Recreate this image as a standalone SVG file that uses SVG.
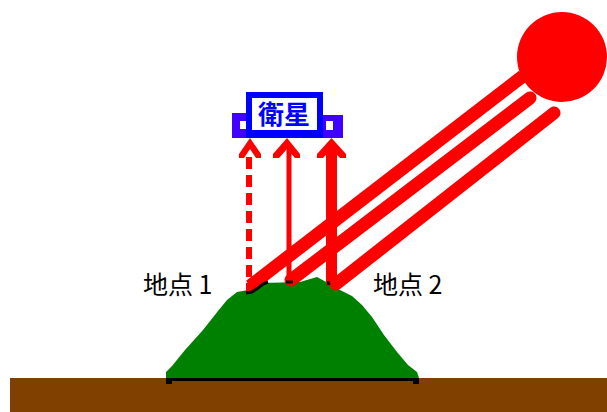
<svg xmlns="http://www.w3.org/2000/svg" width="607" height="412" viewBox="0 0 607 412">
  <style>
    .beam { fill: none; stroke: #ff0000; stroke-width: 13; }
    .shaft { fill: none; stroke: #ff0000; }
    .head { fill: #ff0000; }
    .label { font-family: "Noto Sans CJK JP", "Noto Sans", sans-serif; font-size: 25px; fill: #000; }
    .edge { fill: none; stroke: #000; stroke-width: 3; }
  </style>
  <rect width="607" height="412" fill="#ffffff"/>

  <!-- ground -->
  <g id="ground">
    <rect x="10" y="378" width="597" height="34" fill="#804000"/>
  </g>

  <!-- mountain -->
  <g id="mountain">
    <polygon fill="#008000" points="166,378 166,372 172,366 185,350 203,330 218,311 227,300 237,292 248,290 262,283 300,282 317,277 328,283 340,290 352,296 362,305 372,317 384,335 397,352 408,365 417,372 419,378"/>
    <rect x="166" y="378" width="253" height="3" fill="#000"/>
    <rect x="166" y="378" width="6" height="6" fill="#000"/>
    <rect x="413" y="378" width="6" height="6" fill="#000"/>
  </g>

  <!-- sun -->
  <g id="sun">
    <circle cx="562" cy="57" r="45" fill="#ff0000"/>
  </g>

  <!-- sunlight beams and reflected rays -->
  <g id="connectors">
    <line class="beam" x1="250" y1="286" x2="523" y2="76"/>
    <line class="beam" x1="291" y1="280" x2="530" y2="98" stroke-linecap="round"/>
    <line class="beam" x1="336" y1="284" x2="554" y2="113" stroke-linecap="round"/>

    <line class="shaft" x1="249" y1="157" x2="249" y2="293" stroke-width="6" stroke-dasharray="12 6"/>
    <polygon class="head" points="250,138 261,154 261,158 256,158 250,149 244,158 239,158 239,154"/>

    <line class="shaft" x1="289" y1="145" x2="289" y2="283" stroke-width="5"/>
    <polygon class="head" points="287,138 300,154 300,158 295,158 287,149 279,158 273,158 273,154"/>

    <line class="shaft" x1="331.5" y1="145" x2="331.5" y2="285" stroke-width="11"/>
    <polygon class="head" points="331.5,138 346,154 346,158 340,158 331.5,149 323,158 317,158 317,154"/>
  </g>

  <!-- observation points on the summit -->
  <g id="point-marks">
    <polyline class="edge" points="246,293 252,292 258,288 263,284 268,282"/>
    <line class="edge" x1="286" y1="282" x2="293" y2="282"/>
    <line class="edge" x1="328" y1="281" x2="329" y2="285"/>
  </g>

  <!-- satellite -->
  <g id="satellite">
    <rect x="232" y="113" width="14" height="25" fill="#4000ff"/>
    <rect x="240" y="121" width="6" height="8" fill="#ffffff"/>
    <rect x="320" y="115" width="23" height="23" fill="#4000ff"/>
    <rect x="326" y="121" width="7" height="9" fill="#ffffff"/>
    <rect x="246" y="92" width="77" height="46" fill="#0000ff"/>
    <rect x="252" y="98" width="65" height="32" fill="#ffffff"/>
    <text x="284" y="124" text-anchor="middle" font-family="'Noto Sans CJK JP', sans-serif" font-weight="bold" font-size="26" fill="#0000ff">衛星</text>
  </g>

  <g id="point1">
    <text class="label" x="143" y="294">地点 1</text>
  </g>
  <g id="point2">
    <text class="label" x="373" y="294">地点 2</text>
  </g>
</svg>
